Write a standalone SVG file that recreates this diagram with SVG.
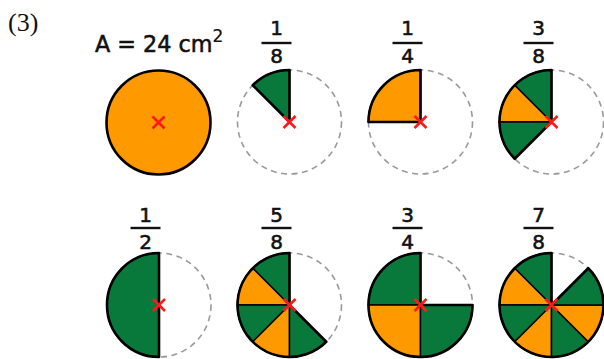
<svg xmlns="http://www.w3.org/2000/svg" width="604" height="359" viewBox="0 0 604 359">
<defs>
<style>
.o{fill:#ff9900;stroke:#000;stroke-width:1.5}
.g{fill:#08793b;stroke:#000;stroke-width:1.5}
.ol{fill:none;stroke:#000;stroke-width:2.6;stroke-linejoin:round}
.d{fill:none;stroke:#999;stroke-width:1.6;stroke-dasharray:6 4.5}
.x{stroke:#ff1a1a;stroke-width:2.6;stroke-linecap:butt}
.fr{font-family:"DejaVu Sans",sans-serif;font-size:20px;text-anchor:middle;fill:#111;stroke:#111;stroke-width:0.6}
.bar{stroke:#111;stroke-width:2.4}
</style>
<path id="cross" class="x" d="M-6 -6L6 6M6 -6L-6 6"/>
<path id="e1" d="M0 0L0 -52A52 52 0 0 0 -36.77 -36.77Z"/>
<path id="e2" d="M0 0L-36.77 -36.77A52 52 0 0 0 -52 0Z"/>
<path id="e3" d="M0 0L-52 0A52 52 0 0 0 -36.77 36.77Z"/>
<path id="e4" d="M0 0L-36.77 36.77A52 52 0 0 0 0 52Z"/>
<path id="e5" d="M0 0L0 52A52 52 0 0 0 36.77 36.77Z"/>
<path id="e6" d="M0 0L36.77 36.77A52 52 0 0 0 52 0Z"/>
<path id="e7" d="M0 0L52 0A52 52 0 0 0 36.77 -36.77Z"/>
<circle id="dc" class="d" r="52"/>
</defs>
<rect width="604" height="359" fill="#fff"/>
<text x="8" y="31" font-family="Liberation Serif,serif" font-size="26" fill="#111">(3)</text>
<text x="95" y="52.3" font-family="DejaVu Sans,sans-serif" font-size="22.3" fill="#111" stroke="#111" stroke-width="0.55">A = 24 cm<tspan font-size="17" stroke-width="0.2" dy="-10">2</tspan></text>

<g id="whole" transform="translate(158.5 122.5)">
<circle r="52" fill="#ff9900" stroke="#000" stroke-width="2.6"/>
<use href="#cross"/>
</g>

<g id="f1-8" transform="translate(289.5 122)">
<use href="#dc"/>
<use href="#e1" class="g"/>
<path class="ol" d="M0 0L0 -52A52 52 0 0 0 -36.77 -36.77Z"/>
<use href="#cross"/>
<text class="fr" x="-13" y="-87">1</text><line class="bar" x1="-28" y1="-79" x2="2" y2="-79"/><text class="fr" x="-13" y="-59">8</text>
</g>

<g id="f1-4" transform="translate(420.5 122)">
<use href="#dc"/>
<path class="o" d="M0 0L0 -52A52 52 0 0 0 -52 0Z"/>
<path class="ol" d="M0 0L0 -52A52 52 0 0 0 -52 0Z"/>
<use href="#cross"/>
<text class="fr" x="-13" y="-87">1</text><line class="bar" x1="-28" y1="-79" x2="2" y2="-79"/><text class="fr" x="-13" y="-59">4</text>
</g>

<g id="f3-8" transform="translate(551.5 122)">
<use href="#dc"/>
<use href="#e1" class="g"/><use href="#e2" class="o"/><use href="#e3" class="g"/>
<path class="ol" d="M0 0L0 -52A52 52 0 0 0 -36.77 36.77Z"/>
<use href="#cross"/>
<text class="fr" x="-13" y="-87">3</text><line class="bar" x1="-28" y1="-79" x2="2" y2="-79"/><text class="fr" x="-13" y="-59">8</text>
</g>

<g id="f1-2" transform="translate(159 305)">
<use href="#dc"/>
<path class="g" d="M0 0L0 -52A52 52 0 0 0 0 52Z"/>
<path class="ol" d="M0 0L0 -52A52 52 0 0 0 0 52Z"/>
<use href="#cross"/>
<text class="fr" x="-13.5" y="-83.5">1</text><line class="bar" x1="-28.5" y1="-77" x2="1.5" y2="-77"/><text class="fr" x="-13.5" y="-56">2</text>
</g>

<g id="f5-8" transform="translate(289.5 305)">
<use href="#dc"/>
<use href="#e1" class="g"/><use href="#e2" class="o"/><use href="#e3" class="g"/><use href="#e4" class="o"/><use href="#e5" class="g"/>
<path class="ol" d="M0 0L0 -52A52 52 0 1 0 36.77 36.77Z"/>
<use href="#cross"/>
<text class="fr" x="-13" y="-83.5">5</text><line class="bar" x1="-28" y1="-77" x2="2" y2="-77"/><text class="fr" x="-13" y="-56">8</text>
</g>

<g id="f3-4" transform="translate(420.5 305)">
<use href="#dc"/>
<path class="g" d="M0 0L0 -52A52 52 0 0 0 -52 0Z"/>
<path class="o" d="M0 0L-52 0A52 52 0 0 0 0 52Z"/>
<path class="g" d="M0 0L0 52A52 52 0 0 0 52 0Z"/>
<path class="ol" d="M0 0L0 -52A52 52 0 1 0 52 0Z"/>
<use href="#cross"/>
<text class="fr" x="-13" y="-83.5">3</text><line class="bar" x1="-28" y1="-77" x2="2" y2="-77"/><text class="fr" x="-13" y="-56">4</text>
</g>

<g id="f7-8" transform="translate(551.5 305)">
<use href="#dc"/>
<use href="#e1" class="g"/><use href="#e2" class="o"/><use href="#e3" class="g"/><use href="#e4" class="o"/><use href="#e5" class="g"/><use href="#e6" class="o"/><use href="#e7" class="g"/>
<path class="ol" d="M0 0L0 -52A52 52 0 1 0 36.77 -36.77Z"/>
<use href="#cross"/>
<text class="fr" x="-13" y="-83.5">7</text><line class="bar" x1="-28" y1="-77" x2="2" y2="-77"/><text class="fr" x="-13" y="-56">8</text>
</g>
</svg>
